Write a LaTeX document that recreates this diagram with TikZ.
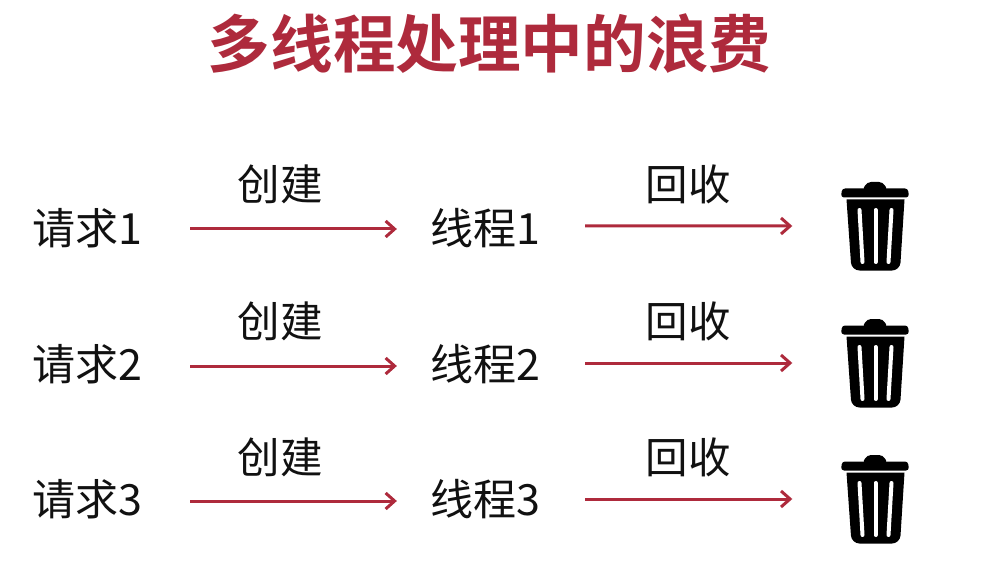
\documentclass[tikz,border=0pt]{standalone}
\usepackage{fontspec}
\setmainfont{Noto Sans CJK SC}
\newfontfamily\titlefont[BoldFont={Noto Sans CJK SC Bold}]{Noto Sans CJK SC}
\usetikzlibrary{arrows.meta}
\definecolor{wred}{HTML}{AE2A3C}
\definecolor{wink}{HTML}{111111}
\tikzset{
  x=1bp,y=-1bp,
  titletext/.style={inner sep=0pt,text=wred,font=\titlefont\bfseries\fontsize{62.6bp}{66bp}\selectfont},
  itemtext/.style={inner sep=0pt,text=wink,font=\fontsize{43bp}{46bp}\selectfont},
  linktext/.style={inner sep=0pt,text=wink,font=\fontsize{42.5bp}{46bp}\selectfont},
  binbox/.style={inner sep=0pt,minimum width=67bp,minimum height=87bp},
  flow/.style={draw=wred,line width=3bp,-{Straight Barb[length=9bp,width=16bp,line width=3bp]}},
  pics/trashbin/.style={code={
    \fill[black,rounded corners=3bp] (-33,-37.5) -- (33,-37.5) -- (34,-28.5) -- (-34,-28.5) -- cycle;
    \fill[black,rounded corners=4bp] (-13,-35) -- (-8,-44) -- (8,-44) -- (13,-35) -- cycle;
    \fill[black] (-28.5,-26.5) -- (29.5,-26.5) [rounded corners=8bp] -- (25,44.5) -- (-23.5,44.5) [sharp corners] -- cycle;
    \draw[white,line width=4bp,line cap=round] (-15.5,-16) -- (-12.5,36);
    \draw[white,line width=4bp,line cap=round] (0.5,-16) -- (0.5,36);
    \draw[white,line width=4bp,line cap=round] (16.5,-16) -- (13.5,36);
  }}
}
\begin{document}
\begin{tikzpicture}
\useasboundingbox (0,0) rectangle (1006,575);
\fill[white] (0,0) rectangle (1006,575);
\node[titletext] (title) at (489.5,44) {多线程处理中的浪费};

\node[itemtext] (r1) at (87,228) {请求1};
\node[itemtext] (r2) at (87,364) {请求2};
\node[itemtext] (r3) at (87,499) {请求3};
\node[itemtext] (t1) at (485,228) {线程1};
\node[itemtext] (t2) at (485,364) {线程2};
\node[itemtext] (t3) at (485,499) {线程3};

\node[linktext] (c1) at (280,184) {创建};
\node[linktext] (c2) at (280,321) {创建};
\node[linktext] (c3) at (280,457) {创建};
\node[linktext] (h1) at (688,184) {回收};
\node[linktext] (h2) at (688,321) {回收};
\node[linktext] (h3) at (688,457) {回收};

\node[binbox] (b1) at (875,226) {};
\node[binbox] (b2) at (875,363) {};
\node[binbox] (b3) at (875,499) {};
\pic at (b1.center) {trashbin};
\pic at (b2.center) {trashbin};
\pic at (b3.center) {trashbin};

\foreach \n/\d in {1/1,2/2,3/2}{
  \draw[flow,shorten <=48bp,shorten >=33bp] ([yshift=-\d bp]r\n.east) -- ([yshift=-\d bp]t\n.west);
}
\foreach \n/\d in {1/2,2/1,3/0}{
  \draw[flow,shorten <=45bp,shorten >=49bp] ([yshift=\d bp]t\n.east) -- (b\n.west);
}
\end{tikzpicture}
\end{document}
